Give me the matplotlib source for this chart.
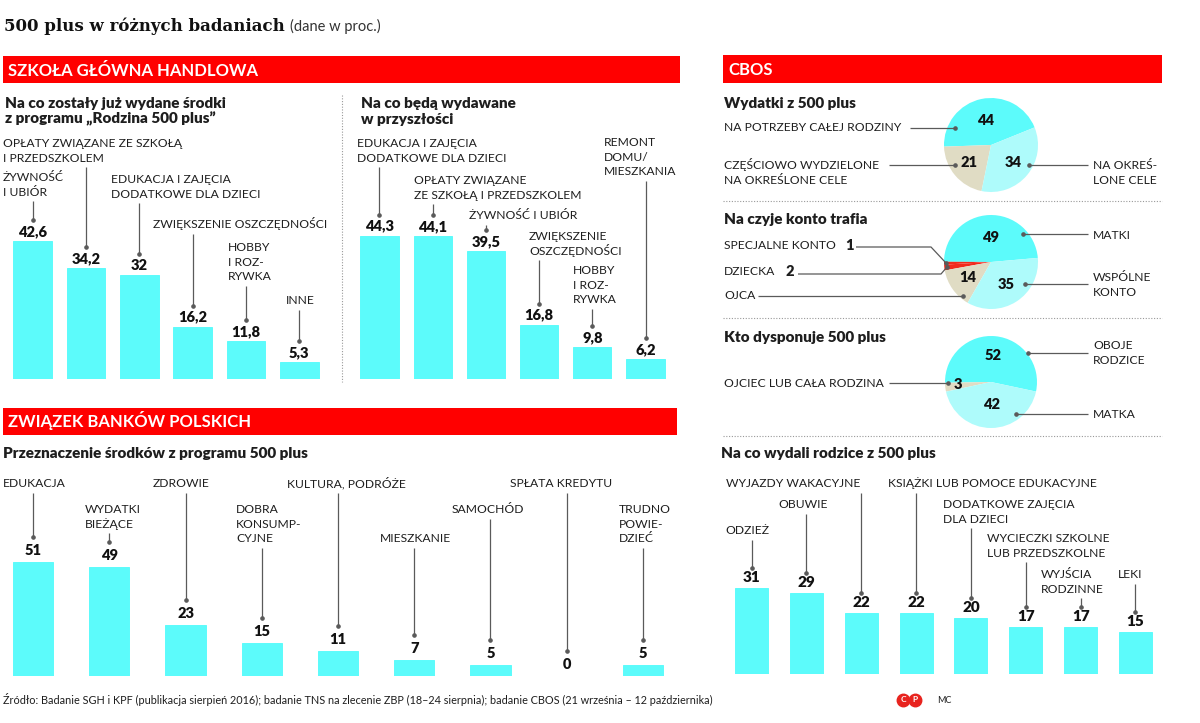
import matplotlib
matplotlib.use('Agg')
import matplotlib.pyplot as plt
from matplotlib.lines import Line2D
import numpy as np

# ---------------- DATA ----------------
sgh1_cats = ['ŻYWNOŚĆ\nI UBIÓR', 'OPŁATY ZWIĄZANE ZE SZKOŁĄ\nI PRZEDSZKOLEM',
             'EDUKACJA I ZAJĘCIA\nDODATKOWE DLA DZIECI', 'ZWIĘKSZENIE OSZCZĘDNOŚCI',
             'HOBBY\nI ROZ-\nRYWKA', 'INNE']
sgh1_vals = [42.6, 34.2, 32, 16.2, 11.8, 5.3]

sgh2_cats = ['EDUKACJA I ZAJĘCIA\nDODATKOWE DLA DZIECI', 'OPŁATY ZWIĄZANE\nZE SZKOŁĄ I PRZEDSZKOLEM',
             'ŻYWNOŚĆ I UBIÓR', 'ZWIĘKSZENIE\nOSZCZĘDNOŚCI', 'HOBBY\nI ROZ-\nRYWKA',
             'REMONT\nDOMU/\nMIESZKANIA']
sgh2_vals = [44.3, 44.1, 39.5, 16.8, 9.8, 6.2]

zbp_cats = ['EDUKACJA', 'WYDATKI\nBIEŻĄCE', 'ZDROWIE', 'DOBRA\nKONSUMP-\nCYJNE', 'KULTURA, PODRÓŻE',
            'MIESZKANIE', 'SAMOCHÓD', 'SPŁATA KREDYTU', 'TRUDNO\nPOWIE-\nDZIEĆ']
zbp_vals = [51, 49, 23, 15, 11, 7, 5, 0, 5]

cbos_cats = ['ODZIEŻ', 'OBUWIE', 'WYJAZDY WAKACYJNE', 'KSIĄŻKI LUB POMOCE EDUKACYJNE',
             'DODATKOWE ZAJĘCIA\nDLA DZIECI', 'WYCIECZKI SZKOLNE\nLUB PRZEDSZKOLNE',
             'WYJŚCIA\nRODZINNE', 'LEKI']
cbos_vals = [31, 29, 22, 22, 20, 17, 17, 15]

pie1_cats = ['NA POTRZEBY CAŁEJ RODZINY', 'CZĘŚCIOWO WYDZIELONE\nNA OKREŚLONE CELE', 'NA OKREŚ-\nLONE CELE']
pie1_vals = [44, 21, 34]
pie2_cats = ['MATKI', 'SPECJALNE KONTO', 'DZIECKA', 'OJCA', 'WSPÓLNE\nKONTO']
pie2_vals = [49, 1, 2, 14, 35]
pie3_cats = ['OBOJE\nRODZICE', 'OJCIEC LUB CAŁA RODZINA', 'MATKA']
pie3_vals = [52, 3, 42]

title = '500 plus w różnych badaniach'
subtitle = '(dane w proc.)'
source = ('Źródło: Badanie SGH i KPF (publikacja sierpień 2016); badanie TNS na zlecenie ZBP '
          '(18–24 sierpnia); badanie CBOS (21 września – 12 października)')

# ---------------- STYLE / LAYOUT ----------------
W, H = 1200, 723
FONT = ['Lato', 'DejaVu Sans']
CYAN = '#5cfbfb'
LCYAN = '#aefbfb'
BEIGE = '#e0dcc4'
RED = '#ff0000'
PRED = '#f2291c'
LINE = '#5a5a5a'
TXT = '#1e1e1e'
PITCH = 14.3
LAB = 8.7
SUB = 11
VAL = 10.5

fig = plt.figure(figsize=(12, 7.23), dpi=100)
fig.patch.set_facecolor('white')


def fx(x):
    return x / W


def fy(y):
    return 1 - y / H


def ftext(x, y, s, size=LAB, weight='normal', color=TXT, ha='left', family=FONT):
    px = size * 100 / 72
    return fig.text(fx(x), fy(y + 0.36 * px), s, fontsize=size, fontweight=weight,
                    color=color, ha=ha, va='baseline', family=family)


def fline(xs, ys, dot=None, color=LINE, lw=0.9):
    fig.add_artist(Line2D([fx(x) for x in xs], [fy(y) for y in ys], color=color, lw=lw,
                          transform=fig.transFigure, solid_capstyle='butt'))
    if dot is not None:
        fig.add_artist(Line2D([fx(dot[0])], [fy(dot[1])], marker='o', ms=2.3, color=color,
                              mfc=color, transform=fig.transFigure))


def multiline(x, y, s, size=LAB, weight='normal'):
    lines = s.split('\n')
    for k, ln in enumerate(lines):
        ftext(x, y + k * PITCH, ln, size=size, weight=weight)
    return y + (len(lines) - 1) * PITCH


def fmt(v):
    if float(v).is_integer():
        return str(int(v))
    return str(v).replace('.', ',')


def bar_panel(x0, x1, base, top, scale, cats, vals, width, label_pos, val_gap, lead_gap, vsize=VAL):
    ax = fig.add_axes([fx(x0), fy(base), (x1 - x0) / W, (base - top) / H])
    n = len(vals)
    ax.set_xlim(-0.5, n - 0.5)
    ax.set_ylim(0, (base - top) / scale)
    ax.bar(range(n), vals, width=width, color=CYAN, edgecolor=CYAN, linewidth=0.7)
    ax.axis('off')
    for i, v in enumerate(vals):
        ax.annotate(fmt(v), (i, v), xytext=(0, val_gap), textcoords='offset pixels',
                    ha='center', va='baseline', fontsize=vsize, fontweight='heavy',
                    family=FONT, color='#111111')
        lx, ly = label_pos[i]
        last = multiline(lx, ly, cats[i])
        xd, yd = ax.transData.transform((i, v))
        bottom = H - yd - lead_gap
        topy = last + 10
        fline([xd, xd], [topy, bottom], dot=(xd, bottom))
    return ax


# ---------------- TITLE ----------------
t = fig.text(fx(4), fy(31), title, fontsize=12, fontweight='bold', family=['DejaVu Serif'],
             color='#111111', ha='left', va='baseline')
r = fig.canvas.get_renderer()
ext = t.get_window_extent(renderer=r)
fig.text((ext.x1 + 5) / W, fy(31), subtitle, fontsize=10.5, family=FONT, color='#333333',
         ha='left', va='baseline')


# ---------------- RED HEADERS ----------------
def header(x0, x1, y0, y1, s):
    fig.add_artist(plt.Rectangle((fx(x0), fy(y1)), (x1 - x0) / W, (y1 - y0) / H,
                                 transform=fig.transFigure, color=RED, lw=0))
    ftext(x0 + 5, (y0 + y1) / 2, s, size=12, weight='bold', color='white')


header(3, 680, 56, 83, 'SZKOŁA GŁÓWNA HANDLOWA')
header(723, 1162, 55, 83, 'CBOS')
header(3, 677, 408, 435, 'ZWIĄZEK BANKÓW POLSKICH')

# separators
fig.add_artist(Line2D([fx(342), fx(342)], [fy(95), fy(382)], color='#999999', lw=0.8,
                      ls=(0, (1, 1.5)), transform=fig.transFigure))
for yy in (201, 318, 436):
    fig.add_artist(Line2D([fx(723), fx(1162)], [fy(yy), fy(yy)], color='#999999', lw=0.8,
                          ls=(0, (1, 1.5)), transform=fig.transFigure))

# ---------------- SUBTITLES ----------------
ftext(5, 102, 'Na co zostały już wydane środki', size=SUB, weight='heavy')
ftext(5, 118, 'z programu „Rodzina 500 plus”', size=SUB, weight='heavy')
ftext(361, 102, 'Na co będą wydawane', size=SUB, weight='heavy')
ftext(361, 118, 'w przyszłości', size=SUB, weight='heavy')
ftext(3, 453, 'Przeznaczenie środków z programu 500 plus', size=SUB, weight='heavy')
ftext(724, 103, 'Wydatki z 500 plus', size=SUB, weight='heavy')
ftext(724, 219, 'Na czyje konto trafia', size=SUB, weight='heavy')
ftext(724, 336, 'Kto dysponuje 500 plus', size=SUB, weight='heavy')
ftext(721, 452, 'Na co wydali rodzice z 500 plus', size=SUB, weight='heavy')

# ---------------- BAR PANELS ----------------
bar_panel(6, 326, 379, 95, 3.235, sgh1_cats, sgh1_vals, 0.73,
          [(3, 177), (3, 143), (111, 179), (153, 224), (228, 247), (286, 300)],
          val_gap=5, lead_gap=21)
bar_panel(352.9, 672.1, 379, 95, 3.235, sgh2_cats, sgh2_vals, 0.72,
          [(357, 143), (414, 180), (469, 215), (529, 236), (573, 270), (604, 142)],
          val_gap=5, lead_gap=21)
bar_panel(-5.1, 681.1, 676, 470, 2.23, zbp_cats, zbp_vals, 0.53,
          [(3, 483), (85, 509), (153, 483), (236, 509), (287, 483), (380, 538), (452, 509),
           (510, 483), (619, 509)],
          val_gap=7, lead_gap=25)
bar_panel(724.1, 1162.9, 674, 470, 2.79, cbos_cats, cbos_vals, 0.6,
          [(725, 530), (778, 504), (726, 483), (888, 483), (943, 504), (987, 538), (1041, 574),
           (1118, 574)],
          val_gap=6, lead_gap=20, vsize=11)


# ---------------- PIES ----------------
def pie_panel(cx, cy, R, vals, colors, start, shown, rlab):
    box = 52
    ax = fig.add_axes([fx(cx - box), fy(cy + box), 2 * box / W, 2 * box / H])
    wedges, _ = ax.pie(vals, colors=colors, startangle=start, radius=R / box,
                       wedgeprops=dict(linewidth=0), counterclock=True)
    ax.set_xlim(-1, 1)
    ax.set_ylim(-1, 1)
    ax.set_aspect('equal')
    ax.axis('off')
    for w, v, s, rr in zip(wedges, vals, shown, rlab):
        if not s:
            continue
        th = np.deg2rad((w.theta1 + w.theta2) / 2)
        rad = rr * R / box
        ax.text(rad * np.cos(th), rad * np.sin(th) - 0.07, fmt(v), ha='center', va='baseline',
                fontsize=VAL, fontweight='heavy', family=FONT, color='#111111')
    return ax


pie_panel(991, 145, 47, pie1_vals, [CYAN, BEIGE, LCYAN], 22, [1, 1, 1], [0.52, 0.6, 0.6])
pie_panel(991, 262, 47, pie2_vals, [CYAN, PRED, PRED, BEIGE, LCYAN], 5, [1, 0, 0, 1, 1],
          [0.5, 0, 0, 0.6, 0.58])
pie_panel(991, 382, 46, pie3_vals, [CYAN, BEIGE, LCYAN], -12, [1, 1, 1], [0.55, 0.72, 0.5])

# pie 1 labels
multiline(724, 127, pie1_cats[0])
fline([910, 955], [128, 128], dot=(955, 128))
multiline(724, 165, pie1_cats[1])
fline([889, 955], [165, 165], dot=(955, 165))
multiline(1093, 165, pie1_cats[2])
fline([1029, 1088], [165, 165], dot=(1029, 165))

# pie 2 labels
multiline(1093, 235, pie2_cats[0])
fline([1023, 1088], [234, 234], dot=(1023, 234))
ftext(724, 245, pie2_cats[1])
ftext(845, 245, fmt(pie2_vals[1]), size=VAL, weight='heavy')
fline([856, 931, 946], [247, 247, 263], dot=(946, 263))
ftext(724, 271, pie2_cats[2])
ftext(786, 271, fmt(pie2_vals[2]), size=VAL, weight='heavy')
fline([798, 941, 947], [274, 274, 267], dot=(947, 267))
multiline(724, 295, pie2_cats[3])
fline([758, 963], [296, 296], dot=(963, 296))
multiline(1093, 277, pie2_cats[4])
fline([1025, 1088], [284, 284], dot=(1025, 284))

# pie 3 labels
multiline(1093, 345, pie3_cats[0])
fline([1028, 1088], [353, 353], dot=(1028, 353))
multiline(724, 383, pie3_cats[1])
fline([889, 948], [383, 383], dot=(948, 383))
multiline(1093, 414, pie3_cats[2])
fline([1016, 1088], [414, 414], dot=(1016, 414))

# ---------------- FOOTER ----------------
ftext(3, 700, source, size=7.8)
for xx, ch in ((903, 'C'), (915, 'P')):
    fig.add_artist(Line2D([fx(xx)], [fy(700)], marker='o', ms=9, color='#e8231e',
                          transform=fig.transFigure))
    fig.text(fx(xx), fy(700), ch, fontsize=6, fontweight='bold', color='white', ha='center',
             va='center', family=FONT)
ftext(937, 700, 'MC', size=6.5)

fig.savefig('out.png', dpi=100, facecolor='white')
